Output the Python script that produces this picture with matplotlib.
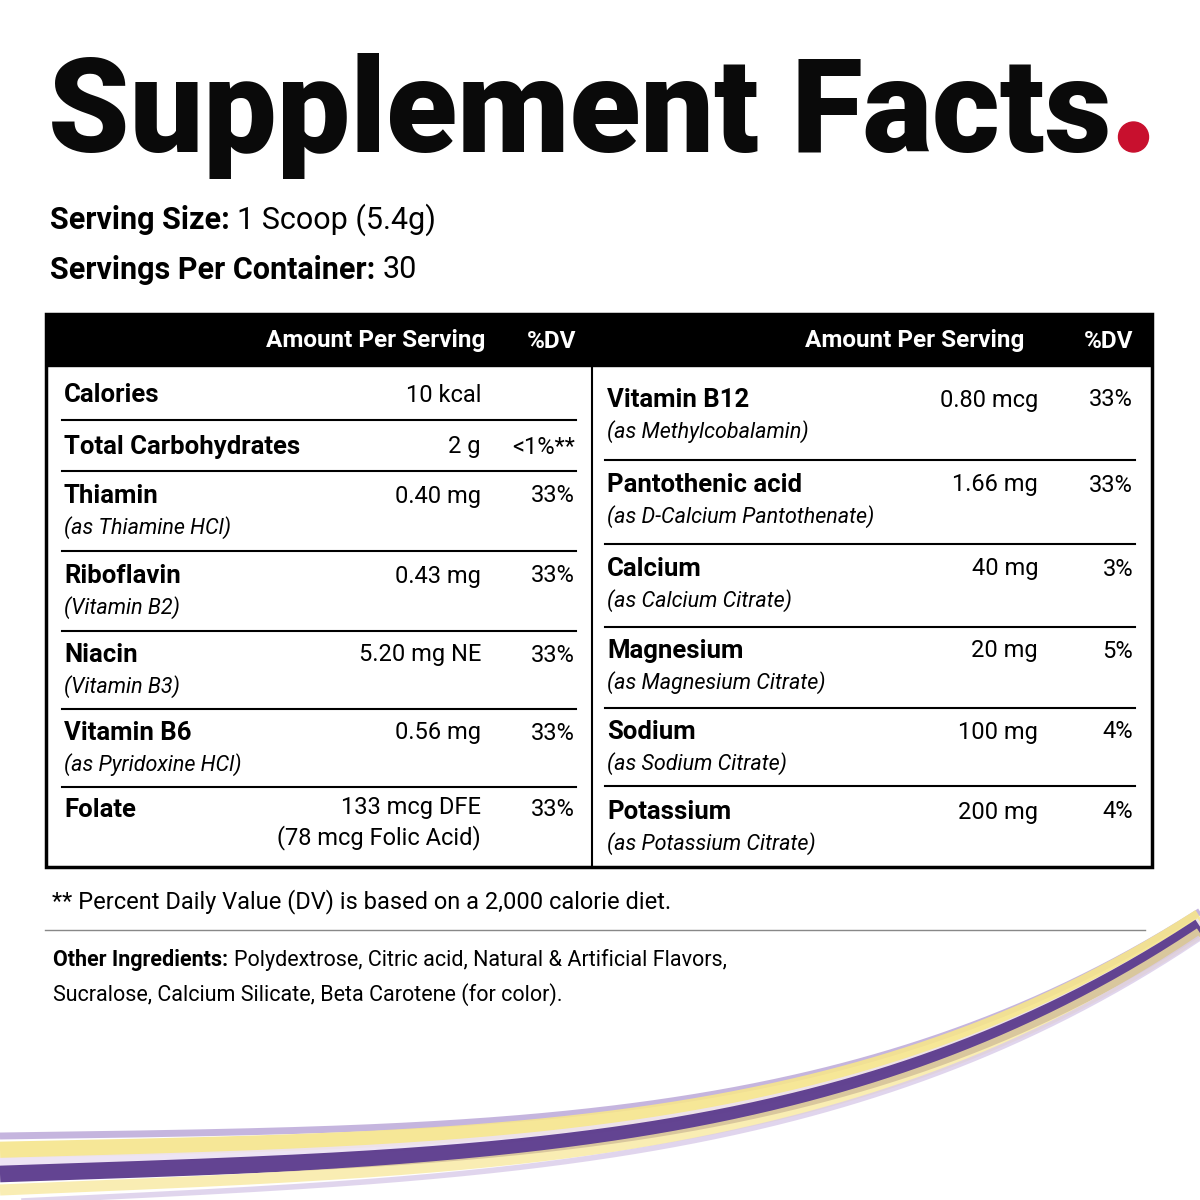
import matplotlib
matplotlib.use("Agg")
import matplotlib.pyplot as plt
import numpy as np
from matplotlib.patches import Rectangle, Circle

title = "Supplement Facts"
serving_size = "1 Scoop (5.4g)"
servings = "30"
left_names = ["Calories", "Total Carbohydrates", "Thiamin", "Riboflavin", "Niacin", "Vitamin B6", "Folate"]
left_subs = ["", "", "(as Thiamine HCl)", "(Vitamin B2)", "(Vitamin B3)", "(as Pyridoxine HCl)", ""]
left_amts = ["10 kcal", "2 g", "0.40 mg", "0.43 mg", "5.20 mg NE", "0.56 mg", "133 mcg DFE\n(78 mcg Folic Acid)"]
left_dv = ["", "<1%**", "33%", "33%", "33%", "33%", "33%"]
right_names = ["Vitamin B12", "Pantothenic acid", "Calcium", "Magnesium", "Sodium", "Potassium"]
right_subs = ["(as Methylcobalamin)", "(as D-Calcium Pantothenate)", "(as Calcium Citrate)",
              "(as Magnesium Citrate)", "(as Sodium Citrate)", "(as Potassium Citrate)"]
right_amts = ["0.80 mcg", "1.66 mg", "40 mg", "20 mg", "100 mg", "200 mg"]
right_dv = ["33%", "33%", "3%", "5%", "4%", "4%"]

fig = plt.figure(figsize=(12, 12), dpi=100)
ax = fig.add_axes([0, 0, 1, 1])
ax.set_xlim(0, 1200); ax.set_ylim(1200, 0); ax.axis("off")
fig.patch.set_facecolor("white")
F = "Roboto"
fig.canvas.draw()
R = fig.canvas.get_renderer()

def pair(x, y, bold, normal, fs):
    t = ax.text(x, y, bold, fontsize=fs, fontweight="bold", family=F, va="center")
    bb = t.get_window_extent(R)
    x2 = ax.transData.inverted().transform((bb.x1, 0))[0]
    ax.text(x2, y, normal, fontsize=fs, family=F, va="center")

# waves
xs = np.linspace(0, 1200, 300)
u = xs / 1200
for off, col, w, a in [(-14, "#b7a3d6", 5, 0.8), (0, "#f6e58c", 12, 0.9), (12, "#ece2f3", 6, 0.9),
                       (24, "#5b3a8c", 12, 0.95), (40, "#f8e9a0", 8, 0.8), (52, "#d9cbe9", 4, 0.8)]:
    y = 1150 + off * (1 - 0.6 * u) - 40 * np.sin(np.pi * u * 1.2) * 0.3 - 260 * u ** 3.2 + 20 * u
    ax.plot(xs, y, color=col, lw=w, alpha=a, solid_capstyle="butt")

t = ax.text(48, 116, title, fontsize=94, fontweight="black", family=F, va="center", ha="left", color="#0a0a0a")
bb = t.get_window_extent(R)
xe = ax.transData.inverted().transform((bb.x1, 0))[0]
ax.add_patch(Circle((xe + 22, 137), 15, color="#c8102e"))
pair(50, 220, "Serving Size: ", serving_size, 22)
pair(50, 270, "Servings Per Container: ", servings, 22)

ax.add_patch(Rectangle((46, 314), 1106, 553, fill=False, lw=2.5, ec="black"))
ax.add_patch(Rectangle((46, 314), 1106, 52, color="black"))
ax.plot([592, 592], [366, 867], color="black", lw=1.5)
for xa, xd in [(485, 576), (1024, 1133)]:
    ax.text(xa, 341, "Amount Per Serving", color="white", fontsize=17.5, fontweight="bold", family=F, ha="right", va="center")
    ax.text(xd, 341, "%DV", color="white", fontsize=17.5, fontweight="bold", family=F, ha="right", va="center")

lrows = [395, 447, 496, 576, 655, 733, 810]
llines = [420, 471, 551, 631, 709, 787]
for i, y in enumerate(lrows):
    ax.text(64, y, left_names[i], fontsize=18.5, fontweight="bold", family=F, va="center")
    if left_subs[i]:
        ax.text(64, y + 32, left_subs[i], fontsize=15.5, style="italic", family=F, va="center")
    if "\n" in left_amts[i]:
        ax.text(481, y - 14, left_amts[i], fontsize=17, family=F, va="top", ha="right", multialignment="right", linespacing=1.3)
    else:
        ax.text(481, y, left_amts[i], fontsize=17, family=F, va="center", ha="right")
    ax.text(575, y, left_dv[i], fontsize=17, family=F, va="center", ha="right")
for y in llines:
    ax.plot([62, 576], [y, y], color="black", lw=1.5)

rrows = [400, 485, 569, 651, 732, 812]
rlines = [460, 544, 627, 708, 786]
for i, y in enumerate(rrows):
    ax.text(607, y, right_names[i], fontsize=18.5, fontweight="bold", family=F, va="center")
    ax.text(607, y + 32, right_subs[i], fontsize=15.5, style="italic", family=F, va="center")
    ax.text(1038, y, right_amts[i], fontsize=17, family=F, va="center", ha="right")
    ax.text(1133, y, right_dv[i], fontsize=17, family=F, va="center", ha="right")
for y in rlines:
    ax.plot([605, 1135], [y, y], color="black", lw=1.5)

ax.text(52, 902, "** Percent Daily Value (DV) is based on a 2,000 calorie diet.", fontsize=17, family=F, va="center")
ax.plot([45, 1145], [930, 930], color="#888888", lw=1)
pair(53, 960, "Other Ingredients: ", "Polydextrose, Citric acid, Natural & Artificial Flavors,", 15.5)
ax.text(53, 995, "Sucralose, Calcium Silicate, Beta Carotene (for color).", fontsize=15.5, family=F, va="center")

fig.savefig("out.png", dpi=100)
